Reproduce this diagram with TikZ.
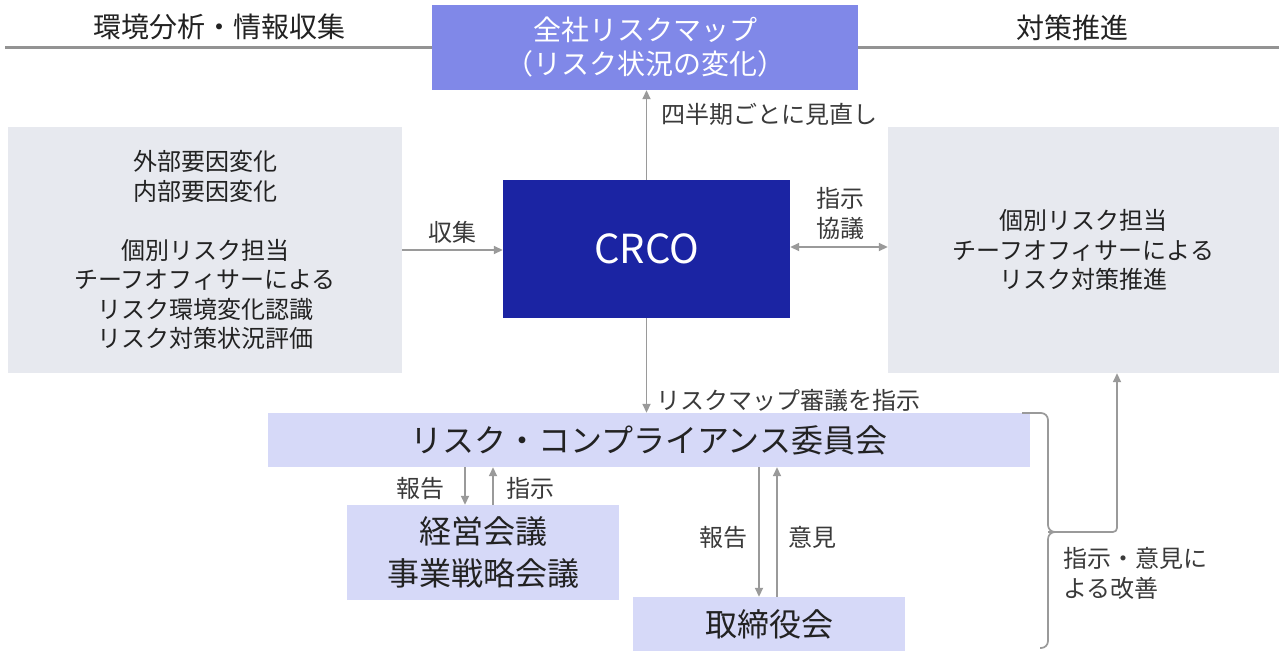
\documentclass[tikz,border=0pt]{standalone}
\usepackage{fontspec}
\setmainfont{Noto Sans CJK JP}
\usetikzlibrary{arrows.meta,calc}
\definecolor{topblue}{HTML}{8088E8}
\definecolor{crcoblue}{HTML}{1B24A3}
\definecolor{lav}{HTML}{D6D9F8}
\definecolor{graybox}{HTML}{E7E9EF}
\definecolor{linegray}{HTML}{9A9A9A}
\definecolor{txt}{HTML}{222222}
\definecolor{lbl}{HTML}{3A3A3A}
\begin{document}
\begin{tikzpicture}[x=1pt,y=-1pt,
  box/.style={inner sep=0pt, align=center, text=txt},
  small/.style={font=\fontsize{24}{29.5}\selectfont},
  mid/.style={font=\fontsize{28}{34}\selectfont},
  big/.style={font=\fontsize{32}{42}\selectfont},
  lab/.style={inner sep=0pt, text=lbl, font=\fontsize{24}{30}\selectfont},
  conn/.style={draw=linegray, line width=1.7pt, -{Triangle[length=9pt,width=8pt]}},
  bothconn/.style={draw=linegray, line width=1.7pt, {Triangle[length=9pt,width=8pt]}-{Triangle[length=9pt,width=8pt]}},
  plain/.style={draw=linegray, line width=1.7pt}]
\useasboundingbox (0,0) rectangle (1279,651);
\fill[white] (0,0) rectangle (1279,651);
% header line
\coordinate (hl) at (5,47);
\coordinate (hr) at (1279,47);
\draw[draw=gray!85, line width=3pt] (hl) -- (hr);
\node[box, mid, text=txt] (hleft) at (219,27) {環境分析・情報収集};
\node[box, mid, text=txt] (hright) at (1072,28) {対策推進};
% boxes
\node[box, mid, fill=topblue, text=white, minimum width=426pt, minimum height=85pt] (top) at (645,47.5) {全社リスクマップ\\（リスク状況の変化）};
\node[box, small, fill=graybox, minimum width=394pt, minimum height=246pt] (left) at (205,250)
  {外部要因変化\\内部要因変化\\[29.5pt]個別リスク担当\\チーフオフィサーによる\\リスク環境変化認識\\リスク対策状況評価};
\node[box, small, fill=graybox, minimum width=391pt, minimum height=246pt] (right) at (1083.5,250)
  {個別リスク担当\\チーフオフィサーによる\\リスク対策推進};
\node[box, fill=crcoblue, text=white, font=\fontsize{40}{48}\selectfont, minimum width=287pt, minimum height=138pt] (crco) at (646.5,249) {CRCO};
\node[box, big, fill=lav, minimum width=762pt, minimum height=54pt] (comm) at (649,440) {リスク・コンプライアンス委員会};
\node[box, big, fill=lav, minimum width=272pt, minimum height=95pt] (keiei) at (483,552.5) {経営会議\\事業戦略会議};
\node[box, big, fill=lav, minimum width=272pt, minimum height=54pt] (board) at (769,624) {取締役会};
% connectors
\draw[conn] (left.east) -- (left.east -| crco.west);
\node[lab] (lshu) at (452,232) {収集};
\draw[conn] (crco.north) -- (crco.north |- top.south);
\node[lab, anchor=west] (lshi) at (661,114) {四半期ごとに見直し};
\draw[bothconn] ([yshift=2pt]crco.east) -- ([yshift=2pt]crco.east -| right.west);
\node[lab, align=center] (lkyo) at (840,213) {指示\\協議};
\draw[conn] (crco.south) -- (crco.south |- comm.north);
\node[lab, anchor=west] (lsin) at (656,400) {リスクマップ審議を指示};
% committee <-> keiei
\coordinate (k1) at ([xshift=-18pt]keiei.north);
\coordinate (k2) at ([xshift=10pt]keiei.north);
\draw[conn] (k1 |- comm.south) -- (k1);
\draw[conn] (k2) -- (k2 |- comm.south);
\node[lab] (lhk1) at (420,488) {報告};
\node[lab] (lsj1) at (530,488) {指示};
% committee <-> board
\coordinate (b1) at ([xshift=-10pt]board.north);
\coordinate (b2) at ([xshift=8pt]board.north);
\draw[conn] (b1 |- comm.south) -- (b1);
\draw[conn] (b2) -- (b2 |- comm.south);
\node[lab] (lhk2) at (723,537) {報告};
\node[lab] (liken) at (812,537) {意見};
% brace and improvement arrow
\coordinate (bt) at (1022,413);
\coordinate (bm) at (1048,532);
\coordinate (bb) at (1040,648);
\coordinate (tip) at (1062,532);
\coordinate (rr) at ([xshift=33.5pt]right.south);
\draw[plain, rounded corners=7pt] (bt) -| (bm) -- (tip);
\draw[plain, rounded corners=7pt] (tip) -- (bm) |- (bb);
\draw[conn, rounded corners=4pt] (bm) -| (rr);
\node[lab, align=left, anchor=west] (lkai) at (1063,573) {指示・意見に\\よる改善};
\end{tikzpicture}
\end{document}
